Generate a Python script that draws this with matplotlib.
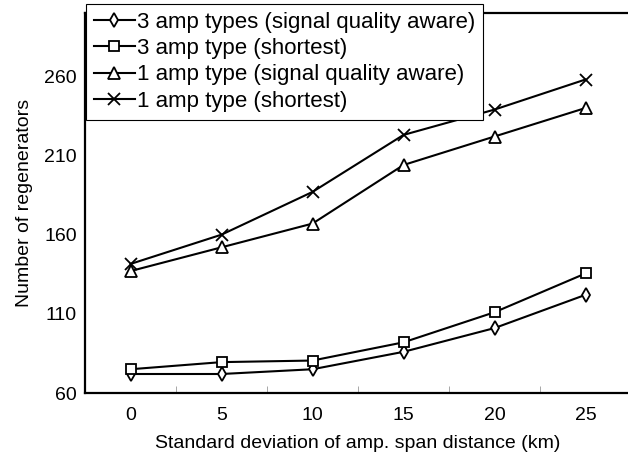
import numpy as np
import matplotlib
matplotlib.use("Agg")
import matplotlib.pyplot as plt
from matplotlib.ticker import FixedLocator

plt.rcParams["font.family"] = ["Liberation Sans", "DejaVu Sans"]

# values
x_vals = [0, 5, 10, 15, 20, 25]
sqa_3amp = [72, 72, 75, 86, 101, 122]
shortest_3amp = [75, 79.5, 80.5, 92, 111, 135.5]
sqa_1amp = [137, 152, 167, 204, 222, 240]
shortest_1amp = [141.5, 160, 187, 223, 239, 258]

labels = [
    "3 amp types (signal quality aware)",
    "3 amp type (shortest)",
    "1 amp type (signal quality aware)",
    "1 amp type (shortest)",
]
series = [sqa_3amp, shortest_3amp, sqa_1amp, shortest_1amp]
markers = ["d", "s", "^", "x"]
msizes = [7.5, 7, 8, 9]

fig = plt.figure(figsize=(6.28, 4.53), dpi=100)
ax = fig.add_axes([85 / 628, 60 / 453, 546 / 628, 380 / 453])

for ys, m, ms, lab in zip(series, markers, msizes, labels):
    ax.plot(x_vals, ys, color="black", lw=1.5, marker=m, ms=ms,
            mfc="white", mec="black", mew=1.3, label=lab)

ax.set_xlim(-2.5, 27.5)
ax.set_ylim(60, 300)
ax.set_yticks([60, 110, 160, 210, 260])
ax.set_xticks(x_vals)
ax.xaxis.set_minor_locator(FixedLocator([2.5, 7.5, 12.5, 17.5, 22.5]))
ax.tick_params(axis="x", which="major", length=0, labelsize=14, pad=10)
ax.tick_params(axis="x", which="minor", length=5, direction="in", color="#999999")
ax.tick_params(axis="y", length=0, labelsize=14, pad=6)

for s in ax.spines.values():
    s.set_linewidth(1.6)

ax.set_xlabel("Standard deviation of amp. span distance (km)", fontsize=14, labelpad=8)
ax.set_ylabel("Number of regenerators", fontsize=14, labelpad=8)

leg = ax.legend(loc="upper left", bbox_to_anchor=(86 / 628, 1 - 4 / 453),
                bbox_transform=fig.transFigure, borderaxespad=0, fontsize=16,
                frameon=True, fancybox=False, framealpha=1, edgecolor="black",
                handlelength=1.85, handletextpad=0.1, labelspacing=0.24,
                borderpad=0.35)
leg.get_frame().set_linewidth(0.8)

fig.savefig("out.png", dpi=100)
